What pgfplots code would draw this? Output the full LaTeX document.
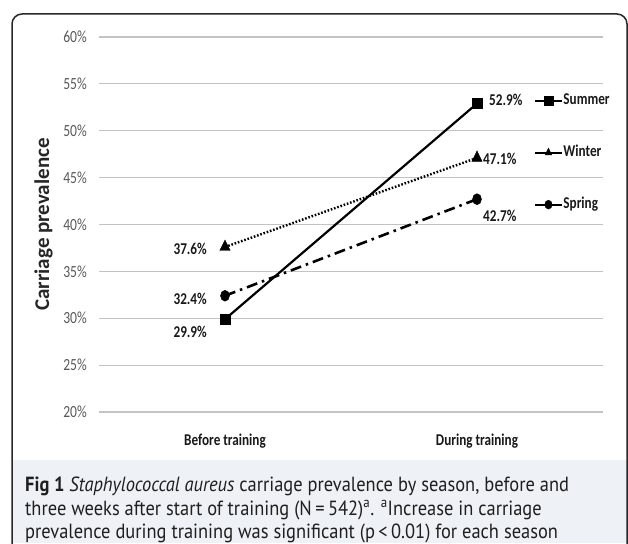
\documentclass[border=0pt]{standalone}
\usepackage{pgfplots}
\pgfplotsset{compat=1.18}
\usepackage{fontspec}
\setmainfont{Carlito}[FakeStretch=0.8]
\newfontfamily\labfont{Carlito}
\newfontfamily\capfont{PT Sans}[FakeStretch=0.9]
\definecolor{gridc}{RGB}{195,195,195}
\definecolor{tickc}{RGB}{89,89,89}
\definecolor{capbg}{RGB}{238,241,245}
\definecolor{framec}{RGB}{40,40,40}
\begin{document}
\begin{tikzpicture}[x=1pt,y=1pt]
\useasboundingbox (0,0) rectangle (628,543);
\begin{scope}
\clip (0,0) rectangle (628,543);
\fill[white] (0,0) rectangle (628,543);
\fill[capbg] (12,0) rectangle (628,83);
\draw[framec, line width=1.5pt, rounded corners=10pt] (12,-30) -- (12,529) -- (627,529) -- (627,-30);
\end{scope}
\begin{scope}[every node/.style={anchor=base west, inner sep=0pt, text=black!88, font=\capfont\fontsize{20.5}{24}\selectfont}]
\node at (25,52) {\textbf{Fig 1} \textit{Staphylococcal aureus} carriage prevalence by season, before and};
\node at (25,28) {three weeks after start of training (N\,=\,542)\textsuperscript{a}. \textsuperscript{a}Increase in carriage};
\node at (25,5) {prevalence during training was significant (p\,<\,0.01) for each season};
\end{scope}
\begin{axis}[
  at={(99pt,131pt)}, anchor=south west,
  scale only axis, width=504pt, height=375pt,
  xmin=-0.5, xmax=1.5, ymin=20, ymax=60,
  xtick={0,1}, xticklabels={Before training, During training},
  ytick={20,25,...,60},
  yticklabel={\pgfmathprintnumber{\tick}\%},
  /pgf/number format/assume math mode=true,
  ymajorgrids, grid style={gridc, line width=1.2pt},
  axis line style={draw=none},
  major tick length=0pt,
  yticklabel style={text=tickc, anchor=east, inner sep=0pt, xshift=-12pt, font=\fontsize{17}{19}\selectfont},
  xticklabel style={text=black!90, anchor=base, inner sep=0pt, yshift=-34pt, font=\bfseries\fontsize{16.5}{18}\selectfont},
  every axis y label/.style={at={(axis description cs:-0.11,0.5)}, rotate=90, anchor=center, text=black!85, font=\labfont\bfseries\fontsize{21}{24}\selectfont},
  ylabel={Carriage prevalence},
  legend style={at={(rel axis cs:0.863,0.853)}, anchor=north west, draw=none, fill=none, inner sep=0pt, outer sep=0pt, row sep=35pt, column sep=0pt, font=\bfseries\fontsize{16.5}{18}\selectfont, nodes={inner sep=0.5pt, text height=12pt, text depth=4pt, text=black!90}},
  legend cell align=left,
  legend image code/.code={\draw[#1, solid, line width=2pt, mark size=4.5pt, mark repeat=2, mark phase=2] plot coordinates {(0pt,0pt) (13.5pt,0pt) (27pt,0pt)};},
]
\addplot[black, line width=2.2pt, mark=square*, mark size=5pt, mark options={solid, line width=0.4pt}] coordinates {(0,29.9) (1,52.9)};
\addlegendentry{Summer}
\addplot[black, line width=2.4pt, dash pattern=on 1.6pt off 1.8pt, mark=triangle*, mark size=7pt, mark options={solid, line width=0.4pt, xscale=0.85}] coordinates {(0,37.6) (1,47.1)};
\addlegendentry{Winter}
\addplot[black, line width=2.6pt, dash pattern=on 11pt off 5pt on 2.5pt off 5pt, mark=*, mark size=5.5pt, mark options={solid, line width=0.4pt, xscale=0.82}] coordinates {(0,32.4) (1,42.7)};
\addlegendentry{Spring}
\begin{scope}[every node/.style={inner sep=0pt, text=black!90, font=\bfseries\fontsize{16.5}{18}\selectfont}]
\node[anchor=base west, xshift=12pt, yshift=-1.5pt] at (axis cs:1,52.9) {52.9\%};
\node[anchor=base west, xshift=6pt, yshift=-7pt] at (axis cs:1,47.1) {47.1\%};
\node[anchor=base west, xshift=6pt, yshift=-22pt] at (axis cs:1,42.7) {42.7\%};
\node[anchor=base east, xshift=-18pt, yshift=-8pt] at (axis cs:0,37.6) {37.6\%};
\node[anchor=base east, xshift=-18pt, yshift=-9pt] at (axis cs:0,32.4) {32.4\%};
\node[anchor=base east, xshift=-18pt, yshift=-18pt] at (axis cs:0,29.9) {29.9\%};
\end{scope}
\end{axis}
\end{tikzpicture}
\end{document}
